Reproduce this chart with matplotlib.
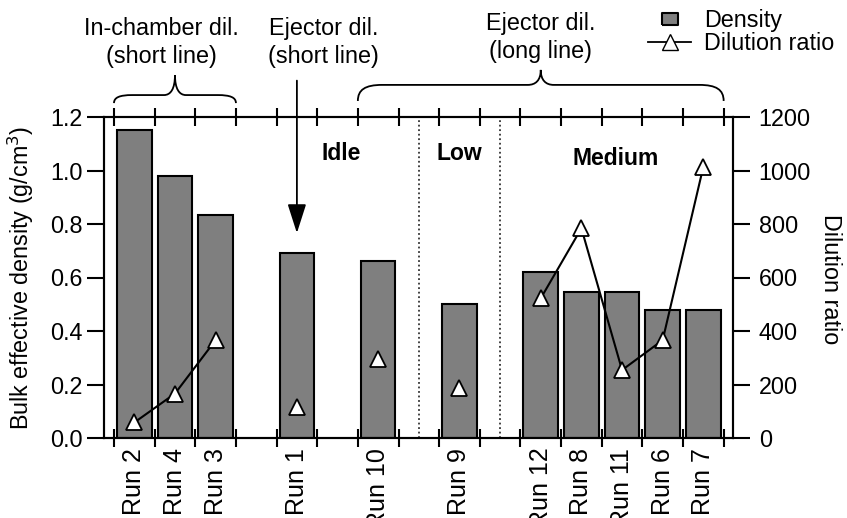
import numpy as np
import matplotlib
matplotlib.use('Agg')
import matplotlib.pyplot as plt
from matplotlib.path import Path
from matplotlib.patches import PathPatch
from matplotlib.lines import Line2D

plt.rcParams['font.family'] = ['Liberation Sans', 'DejaVu Sans']
plt.rcParams['font.size'] = 16.8

# run order along the category axis; None marks an empty slot
runs = ['Run 2', 'Run 4', 'Run 3', None, 'Run 1', None, 'Run 10', None,
        'Run 9', None, 'Run 12', 'Run 8', 'Run 11', 'Run 6', 'Run 7']
density = [1.15, 0.98, 0.835, np.nan, 0.69, np.nan, 0.66, np.nan,
           0.50, np.nan, 0.62, 0.545, 0.545, 0.48, 0.48]
dilution = [58, 166, 366, np.nan, 117, np.nan, 294, np.nan,
            187, np.nan, 522, 784, 254, 366, 1014]

loads = ['Idle', 'Low', 'Medium']
groups = [('In-chamber dil.\n(short line)', 0, 2),
          ('Ejector dil.\n(short line)', 4, 4),
          ('Ejector dil.\n(long line)', 6, 14)]


def brace(ax, x0, x1, yb, ym, yp, dx, dxc):
    xc = 0.5 * (x0 + x1)
    verts = [(x0, yb), (x0, yb + 0.7 * (ym - yb)), (x0 + 0.3 * dx, ym), (x0 + dx, ym),
             (xc - dxc, ym),
             (xc - 0.4 * dxc, ym), (xc, ym + 0.3 * (yp - ym)), (xc, yp),
             (xc, ym + 0.3 * (yp - ym)), (xc + 0.4 * dxc, ym), (xc + dxc, ym),
             (x1 - dx, ym),
             (x1 - 0.3 * dx, ym), (x1, yb + 0.7 * (ym - yb)), (x1, yb)]
    codes = [Path.MOVETO, Path.CURVE4, Path.CURVE4, Path.CURVE4,
             Path.LINETO,
             Path.CURVE4, Path.CURVE4, Path.CURVE4,
             Path.CURVE4, Path.CURVE4, Path.CURVE4,
             Path.LINETO,
             Path.CURVE4, Path.CURVE4, Path.CURVE4]
    ax.add_patch(PathPatch(Path(verts, codes), fill=False, lw=1.3,
                           edgecolor='k', clip_on=False))


fig = plt.figure(figsize=(8.47, 5.18), dpi=100)
ax = fig.add_axes([104 / 847, 1 - 438 / 518, 629 / 847, 321 / 518])
ax2 = ax.twinx()

x = np.arange(len(runs))
ax.bar(x, density, width=0.85, color='#7f7f7f', edgecolor='k', linewidth=1.5, zorder=2)
ax2.plot(x, dilution, color='k', lw=1.5, marker='^', markersize=12,
         markerfacecolor='white', markeredgecolor='k', markeredgewidth=1.3)

ax.set_xlim(-0.746, 14.73)
ax.set_ylim(0, 1.2)
ax2.set_ylim(0, 1200)

ax.set_yticks(np.arange(0, 1.21, 0.2))
ax.set_yticklabels(['%.1f' % v for v in np.arange(0, 1.21, 0.2)])
ax2.set_yticks(np.arange(0, 1201, 200))

occupied = [i for i, r in enumerate(runs) if r]
ax.set_xticks(occupied)
ax.set_xticklabels([runs[i] for i in occupied], rotation=90, fontsize=18, va='top')
ax.set_xticks(np.arange(-0.5, len(runs)), minor=True)
ax.tick_params(axis='x', which='major', length=0, pad=7)
ax.tick_params(axis='x', which='minor', direction='inout', length=13, width=1.5,
               top=True, bottom=True)
ax.tick_params(axis='y', direction='out', length=12.5, width=1.5, pad=3)
ax2.tick_params(axis='y', direction='out', length=12.5, width=1.5, pad=6)

for a in (ax, ax2):
    for s in a.spines.values():
        s.set_linewidth(1.5)

ax.set_ylabel('Bulk effective density (g/cm$^3$)')
ax.yaxis.set_label_coords(-0.108, 0.5)
ax2.set_ylabel('Dilution ratio', rotation=270, va='bottom')
ax2.yaxis.set_label_coords(1.136, 0.495)

# load separators and labels
for xv in (7, 9):
    ax.axvline(xv, color='#333333', lw=1.3, ls=(0, (1, 1.5)), zorder=1)
ax.text(5.1, 1.065, loads[0], fontsize=16.5, fontweight='bold', ha='center', va='center')
ax.text(8.0, 1.065, loads[1], fontsize=16.5, fontweight='bold', ha='center', va='center')
ax.text(11.84, 1.043, loads[2], fontsize=16.5, fontweight='bold', ha='center', va='center')

# dilution setup annotations above the plot
ax.text(0.67, 1.478, groups[0][0], ha='center', va='center', linespacing=1.25)
ax.text(4.65, 1.478, groups[1][0], ha='center', va='center', linespacing=1.25)
ax.text(10.0, 1.497, groups[2][0], ha='center', va='center', linespacing=1.25)
brace(ax, groups[0][1] - 0.5, groups[0][2] + 0.5, 1.252, 1.282, 1.357, 0.45, 0.27)
brace(ax, groups[2][1] - 0.5, groups[2][2] + 0.5, 1.26, 1.32, 1.376, 0.6, 0.32)
ax.annotate('', xy=(groups[1][1], 0.766), xytext=(groups[1][1], 1.336),
            arrowprops=dict(arrowstyle='-|>,head_length=1.0,head_width=0.32',
                            mutation_scale=18, lw=1.3, color='k',
                            shrinkA=0, shrinkB=0),
            annotation_clip=False)

rect = [(-1, -0.76), (1, -0.76), (1, 0.76), (-1, 0.76), (-1, -0.76)]
handles = [Line2D([], [], marker=rect, markersize=12, color='#7f7f7f',
                  markeredgecolor='k', markeredgewidth=1.5, linestyle='none'),
           Line2D([], [], color='k', lw=1.3, marker='^', markersize=12,
                  markerfacecolor='white', markeredgecolor='k')]
fig.legend(handles, ['Density', 'Dilution ratio'], loc='upper left',
           bbox_to_anchor=(648 / 847, 1 - 9 / 518), frameon=False,
           borderpad=0, borderaxespad=0, handlelength=1.85, handletextpad=0.55,
           labelspacing=0.0, fontsize=16.8)

fig.savefig('out.png', dpi=100)
